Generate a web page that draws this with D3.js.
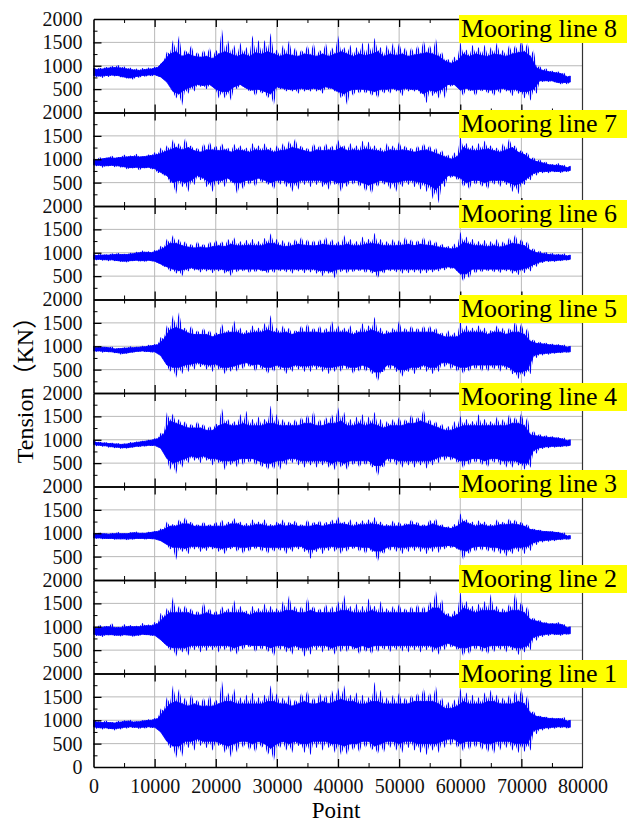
<!DOCTYPE html>
<html>
  <head>
    <meta charset="utf-8" />
    <title>Mooring line tension</title>
    <script src="https://d3js.org/d3.v7.min.js"></script>
    <style>
      body { margin: 0; background: #fff; }
      svg { display: block; }
    </style>
  </head>
  <body>
    <svg id="chart" width="628" height="824"></svg>

    <script>
      // Values (kN), one entry per 1000-point window.
      //   Peaks      : top of the spikes, at 0, 1000, ... 78000
      //   UpperCore  : top of the solid band between two spikes, at 500, 1500, ... 77500
      //   Troughs    : bottom of the spikes, at 500, 1500, ... 77500
      //   LowerCore  : bottom of the solid band, at 0, 1000, ... 78000
      const line8Peaks = [950,960,980,1000,1020,990,960,940,950,960, 980,1050,1300,1550,1650,1350,1450,1300,1350,1400,
        1350,1800,1550,1450,1500,1400,1650,1550,1550,1700, 1350,1450,1550,1400,1350,1450,1500,1350,1500,1400,
        1650,1400,1450,1400,1500,1500,1600,1400,1450,1500, 1500,1400,1400,1450,1550,1450,1600,1300,1150,1200,
        1500,1350,1450,1400,1450,1400,1500,1350,1450,1450, 1550,1500,1350,1000,950,900,880,850,780];
      const line8UpperCore = [920,930,950,960,950,930,910,900,920,930, 960,1100,1250,1300,1200,1250,1200,1180,1200,1150,
        1250,1300,1250,1200,1250,1200,1280,1250,1300,1250, 1200,1250,1220,1200,1250,1230,1200,1250,1200,1250,
        1300,1250,1200,1250,1220,1250,1300,1200,1250,1220, 1250,1200,1230,1250,1280,1250,1200,1100,1050,1100,
        1250,1200,1250,1220,1200,1250,1230,1200,1250,1280, 1300,1200,950,900,870,850,830,760];
      const line8Troughs = [760,740,760,770,750,720,700,740,760,770, 780,720,600,300,150,400,450,550,500,550,
        300,300,250,500,550,450,350,400,300,150, 500,450,450,400,450,450,450,400,500,450,
        300,150,350,400,400,350,300,400,400,450, 350,450,450,400,200,350,300,300,550,550,
        350,450,350,450,400,350,400,450,350,400, 300,250,400,650,650,640,600,600];
      const line8LowerCore = [790,780,790,800,790,760,740,770,790,800, 810,760,650,450,400,500,550,600,580,600,
        500,450,450,550,600,520,480,500,450,400, 550,520,500,500,520,500,520,500,550,520,
        450,400,480,500,500,480,450,500,500,520, 480,520,500,500,400,480,450,500,600,600,
        480,520,480,500,500,480,500,520,480,500, 450,450,500,680,680,680,640,640,650];

      const line7Peaks = [1000,1050,1030,1080,1050,1100,1080,1120,1060,1100, 1150,1250,1300,1430,1350,1460,1300,1250,1350,1380,
        1300,1350,1250,1330,1300,1250,1350,1300,1340,1250, 1300,1350,1400,1450,1300,1250,1350,1300,1350,1300,
        1420,1300,1350,1300,1400,1380,1300,1250,1350,1300, 1380,1300,1250,1300,1350,1300,1250,1200,1100,1150,
        1480,1350,1300,1350,1400,1300,1250,1350,1450,1300, 1200,1150,1050,1000,950,900,920,880,850];
      const line7UpperCore = [980,1010,1030,1020,1040,1050,1060,1050,1060,1080, 1100,1150,1200,1250,1200,1250,1180,1150,1200,1200,
        1180,1200,1150,1200,1180,1150,1200,1180,1200,1150, 1180,1200,1250,1220,1180,1150,1200,1180,1200,1180,
        1250,1180,1200,1180,1220,1200,1180,1150,1200,1180, 1200,1180,1150,1180,1200,1150,1100,1050,1000,1050,
        1250,1200,1180,1200,1220,1180,1150,1200,1250,1150, 1100,1000,950,920,880,870,860,820];
      const line7Troughs = [850,820,850,830,820,780,800,760,800,780, 700,650,500,250,400,300,450,550,400,300,
        450,400,500,250,350,450,400,500,450,350, 450,400,300,350,450,400,450,400,350,450,
        300,400,450,400,300,250,400,450,350,300, 400,450,400,350,300,150,60,400,600,550,
        400,350,450,400,350,450,400,450,300,250, 450,550,650,700,700,720,700,720];
      const line7LowerCore = [880,870,860,870,860,840,820,830,820,830, 800,720,650,500,550,500,550,650,600,500,
        550,550,600,500,500,550,550,600,550,500, 550,550,500,500,550,550,550,550,500,550,
        500,500,550,550,500,450,500,550,520,500, 520,550,550,520,500,450,350,500,650,650,
        600,500,550,550,500,550,550,550,500,450, 500,600,700,740,740,750,740,750,760];

      const line6Peaks = [960,980,970,990,1000,980,1000,1020,1050,1030, 1060,1150,1300,1380,1300,1250,1200,1250,1200,1250,
        1280,1250,1300,1330,1250,1280,1300,1250,1320,1415, 1300,1280,1250,1300,1350,1300,1280,1300,1350,1300,
        1250,1380,1300,1250,1350,1300,1430,1300,1250,1300, 1280,1350,1300,1280,1350,1300,1250,1200,1150,1200,
        1450,1350,1300,1250,1280,1250,1300,1250,1330,1400, 1300,1250,1100,1050,1020,1000,980,990,950];
      const line6UpperCore = [940,950,950,960,960,960,980,1000,1010,1000, 1040,1100,1200,1200,1150,1120,1100,1120,1100,1130,
        1150,1130,1180,1150,1150,1160,1150,1150,1200,1200, 1150,1130,1150,1180,1160,1150,1150,1180,1160,1150,
        1150,1180,1150,1150,1180,1200,1180,1150,1150,1150, 1160,1180,1150,1180,1160,1150,1120,1100,1080,1100,
        1220,1180,1150,1150,1130,1150,1120,1150,1200,1180, 1150,1050,1000,980,960,950,950,930];
      const line6Troughs = [840,830,820,820,800,790,820,810,800,820, 780,700,600,550,500,600,620,580,600,560,
        600,550,500,580,600,560,580,600,550,560, 600,580,550,600,560,580,550,500,550,450,
        580,550,580,600,560,550,450,550,600,580, 550,560,580,550,560,580,600,620,650,600,
        380,450,550,580,600,580,560,600,550,520, 560,600,700,780,800,800,820,830];
      const line6LowerCore = [860,860,850,850,830,820,830,840,830,840, 820,760,700,650,620,650,680,650,660,650,
        650,650,620,650,650,650,650,650,620,650, 650,650,650,650,650,650,650,620,620,600,
        650,650,650,650,650,650,600,620,650,650, 650,650,650,650,650,650,650,680,700,680,
        550,550,650,650,650,650,650,650,650,620, 650,680,750,800,830,830,840,850,860];

      const line5Peaks = [1000,1010,990,1000,960,980,1000,990,1010,1030, 1050,1200,1450,1670,1740,1400,1450,1350,1400,1350,
        1300,1490,1350,1550,1400,1350,1450,1400,1500,1670, 1400,1450,1400,1350,1450,1500,1400,1450,1400,1550,
        1450,1400,1450,1350,1500,1450,1630,1400,1350,1400, 1550,1400,1450,1400,1450,1450,1400,1300,1350,1300,
        1550,1450,1400,1450,1400,1350,1450,1400,1400,1550, 1500,1400,1150,1100,1080,1060,1050,1040,1000];
      const line5UpperCore = [970,980,970,940,950,960,970,980,990,1010, 1030,1150,1350,1400,1350,1280,1250,1250,1250,1200,
        1250,1280,1300,1300,1250,1280,1300,1300,1350,1300, 1280,1300,1250,1300,1300,1300,1300,1280,1300,1300,
        1300,1300,1250,1300,1300,1350,1300,1250,1280,1300, 1300,1300,1300,1300,1300,1300,1250,1200,1200,1200,
        1300,1300,1300,1300,1250,1300,1300,1250,1300,1300, 1250,1100,1060,1050,1030,1020,1010,980];
      const line5Troughs = [880,860,870,850,820,840,860,880,870,860, 850,700,450,320,400,450,500,550,500,450,
        500,400,450,450,500,550,450,500,400,450, 500,400,450,500,450,450,500,450,400,450,
        450,500,400,450,450,400,240,450,500,450, 350,450,400,500,450,400,450,550,500,450,
        400,450,500,450,450,500,450,500,400,300, 350,400,750,800,820,840,850,860];
      const line5LowerCore = [900,900,890,880,860,850,870,890,900,890, 880,800,600,550,550,600,620,650,620,600,
        620,550,550,580,620,650,600,620,550,550, 600,550,550,600,580,580,600,580,550,550,
        580,600,550,550,600,550,450,450,600,600, 500,500,550,550,600,550,550,650,650,600,
        550,550,600,600,600,600,600,600,550,450, 450,500,800,840,850,860,870,880,880];

      const line4Peaks = [980,960,950,940,930,920,950,960,980,1000, 1030,1150,1590,1560,1450,1400,1350,1400,1350,1300,
        1350,1685,1450,1400,1550,1620,1450,1500,1450,1735, 1550,1450,1400,1450,1500,1550,1630,1450,1500,1550,
        1700,1600,1450,1500,1550,1500,1600,1450,1400,1450, 1500,1450,1550,1500,1665,1450,1400,1350,1300,1400,
        1520,1450,1400,1550,1450,1400,1500,1450,1550,1500, 1590,1500,1200,1130,1100,1080,1060,1050,1000];
      const line4UpperCore = [940,930,920,910,900,910,930,950,970,990, 1020,1120,1400,1350,1300,1250,1250,1250,1200,1200,
        1300,1350,1300,1300,1350,1300,1300,1300,1350,1350, 1300,1300,1300,1300,1350,1350,1300,1300,1350,1350,
        1400,1300,1300,1350,1300,1350,1300,1250,1300,1300, 1300,1350,1350,1400,1350,1300,1250,1200,1200,1250,
        1300,1300,1300,1300,1300,1300,1300,1300,1350,1350, 1300,1100,1080,1060,1050,1040,1020,980];
      const line4Troughs = [860,850,830,820,800,810,830,840,850,860, 850,750,350,260,400,500,550,500,550,450,
        500,350,450,400,450,500,450,400,350,360, 350,450,500,450,400,450,400,450,400,350,
        400,350,450,400,450,400,215,400,500,450, 400,450,400,450,380,450,500,550,550,500,
        380,450,500,450,400,500,450,400,400,450, 360,400,700,800,820,830,840,850];
      const line4LowerCore = [900,880,870,850,840,830,840,860,870,880, 880,820,600,500,550,600,650,620,650,600,
        600,550,550,550,600,600,600,550,500,500, 550,550,600,600,550,550,550,550,550,500,
        550,500,550,550,550,550,450,450,600,600, 550,550,550,550,550,550,600,650,650,620,
        550,550,600,600,550,600,600,550,550,550, 500,500,780,830,850,860,860,870,880];

      const line3Peaks = [1000,1020,1000,1010,1030,1000,1020,1040,1010,1030, 1050,1100,1250,1200,1300,1350,1250,1200,1250,1200,
        1250,1300,1250,1325,1250,1220,1300,1250,1300,1200, 1250,1300,1250,1280,1200,1300,1250,1280,1250,1300,
        1360,1250,1300,1250,1280,1300,1350,1250,1200,1280, 1250,1220,1300,1250,1200,1300,1320,1200,1150,1200,
        1430,1300,1250,1280,1250,1200,1300,1250,1320,1300, 1250,1200,1100,1080,1050,1050,1030,1020,950];
      const line3UpperCore = [980,990,980,990,990,990,1010,1000,1000,1020, 1040,1080,1150,1150,1200,1200,1150,1150,1150,1150,
        1150,1150,1200,1200,1150,1150,1180,1180,1150,1150, 1180,1150,1180,1150,1150,1150,1180,1150,1180,1200,
        1200,1180,1150,1180,1180,1200,1180,1150,1150,1150, 1150,1180,1180,1150,1150,1200,1150,1120,1100,1150,
        1250,1200,1150,1180,1150,1150,1180,1180,1200,1180, 1150,1080,1060,1040,1030,1020,1000,940];
      const line3Troughs = [880,870,880,860,870,850,860,880,860,870, 860,800,650,420,600,550,650,600,620,650,
        600,550,650,600,550,600,650,600,550,600, 620,550,600,650,600,450,600,550,620,600,
        550,600,650,600,550,600,385,550,620,600, 550,600,620,600,550,600,580,650,680,650,
        420,550,600,620,600,580,550,500,550,600, 550,620,750,800,820,830,850,860];
      const line3LowerCore = [900,900,890,890,880,880,880,890,890,890, 880,840,760,700,700,680,720,720,700,720,
        700,680,700,720,700,700,720,720,700,700, 700,700,700,720,720,650,650,700,700,720,
        700,700,720,720,700,700,620,620,700,720, 700,700,720,720,700,700,720,720,740,720,
        650,620,700,720,720,700,700,650,650,700, 700,720,800,840,850,860,870,880,880];

      const line2Peaks = [1000,1050,1020,1080,1000,1060,1040,1020,1080,1050, 1100,1300,1400,1640,1450,1465,1400,1350,1535,1400,
        1350,1450,1400,1570,1450,1350,1450,1400,1500,1450, 1400,1550,1680,1450,1450,1640,1450,1400,1500,1450,
        1550,1680,1450,1500,1450,1610,1450,1550,1400,1450, 1500,1400,1450,1500,1450,1550,1785,1600,1300,1350,
        1750,1550,1450,1500,1550,1700,1450,1400,1500,1750, 1550,1450,1200,1150,1100,1080,1100,1060,1000];
      const line2UpperCore = [960,990,1000,980,980,1000,1000,1000,1020,1020, 1060,1200,1300,1300,1300,1300,1250,1250,1300,1250,
        1250,1300,1300,1300,1300,1250,1300,1300,1300,1300, 1300,1350,1350,1300,1300,1350,1300,1300,1300,1300,
        1350,1350,1300,1300,1300,1350,1300,1300,1300,1300, 1300,1300,1300,1300,1300,1400,1400,1250,1200,1250,
        1400,1350,1300,1350,1350,1350,1300,1300,1350,1350, 1300,1150,1120,1080,1060,1060,1050,980];
      const line2Troughs = [800,780,820,800,790,820,780,800,820,800, 780,650,500,360,450,380,500,450,480,500,
        450,500,450,395,500,550,450,500,450,360, 500,450,400,500,360,400,500,450,480,400,
        450,450,500,400,450,400,450,500,450,500, 470,450,500,450,500,450,400,500,550,500,
        360,400,500,450,400,450,500,450,500,395, 450,500,700,780,800,820,800,830];
      const line2LowerCore = [840,820,830,830,820,830,820,820,840,830, 820,720,600,550,550,550,600,600,600,600,
        600,600,600,550,600,620,600,600,600,550, 600,600,550,600,550,550,600,600,600,550,
        600,600,600,550,600,550,600,600,600,600, 600,600,600,600,600,600,550,600,650,600,
        550,550,600,600,550,600,600,600,600,550, 550,600,780,820,840,850,840,850,850];

      const line1Peaks = [1000,980,1000,960,990,1000,1010,980,1000,1020, 1050,1250,1500,1750,1680,1500,1570,1450,1500,1550,
        1450,1860,1600,1680,1500,1550,1600,1500,1550,1750, 1580,1500,1550,1450,1600,1650,1500,1600,1550,1650,
        1700,1750,1550,1600,1550,1500,1825,1650,1500,1550, 1600,1500,1550,1600,1700,1600,1750,1500,1400,1450,
        1680,1600,1550,1500,1600,1650,1550,1500,1550,1650, 1680,1550,1200,1100,1080,1060,1050,1070,1000];
      const line1UpperCore = [960,950,950,940,960,980,960,970,990,1000, 1030,1200,1350,1400,1350,1300,1350,1300,1300,1300,
        1350,1400,1400,1350,1350,1350,1350,1350,1400,1400, 1350,1350,1300,1350,1400,1350,1350,1400,1350,1400,
        1450,1400,1400,1350,1350,1400,1400,1350,1350,1350, 1350,1350,1400,1400,1400,1400,1350,1250,1250,1300,
        1400,1350,1350,1350,1400,1400,1350,1350,1350,1400, 1350,1150,1080,1060,1040,1030,1030,980];
      const line1Troughs = [820,800,810,780,800,820,830,810,820,830, 820,650,400,185,220,400,350,450,400,350,
        450,300,200,300,400,350,300,400,250,115, 400,350,300,450,300,250,400,350,400,300,
        250,250,350,300,400,350,270,300,400,350, 300,400,350,300,250,350,300,400,450,400,
        320,350,400,350,300,270,350,400,350,300, 320,350,700,780,800,820,830,820];
      const line1LowerCore = [860,840,840,820,830,850,860,850,850,860, 850,750,550,450,450,550,550,600,550,550,
        550,500,450,500,550,550,500,550,500,400, 500,550,500,550,500,500,550,550,550,500,
        500,450,500,500,550,550,450,500,550,550, 500,550,550,500,500,500,500,550,600,600,
        500,550,550,550,500,500,550,550,550,500, 500,500,780,820,840,850,860,860,850];

      const lineNames = ["Mooring line 8", "Mooring line 7", "Mooring line 6", "Mooring line 5",
        "Mooring line 4", "Mooring line 3", "Mooring line 2", "Mooring line 1"];
      const yTicks = [500, 1000, 1500, 2000];
      const yMinorTicks = [250, 750, 1250, 1750];
      const xTicks = [0, 10000, 20000, 30000, 40000, 50000, 60000, 70000, 80000];
      const xMinorTicks = [5000, 15000, 25000, 35000, 45000, 55000, 65000, 75000];

      const lines = [
        { name: lineNames[0], peaks: line8Peaks, upper: line8UpperCore, troughs: line8Troughs, lower: line8LowerCore },
        { name: lineNames[1], peaks: line7Peaks, upper: line7UpperCore, troughs: line7Troughs, lower: line7LowerCore },
        { name: lineNames[2], peaks: line6Peaks, upper: line6UpperCore, troughs: line6Troughs, lower: line6LowerCore },
        { name: lineNames[3], peaks: line5Peaks, upper: line5UpperCore, troughs: line5Troughs, lower: line5LowerCore },
        { name: lineNames[4], peaks: line4Peaks, upper: line4UpperCore, troughs: line4Troughs, lower: line4LowerCore },
        { name: lineNames[5], peaks: line3Peaks, upper: line3UpperCore, troughs: line3Troughs, lower: line3LowerCore },
        { name: lineNames[6], peaks: line2Peaks, upper: line2UpperCore, troughs: line2Troughs, lower: line2LowerCore },
        { name: lineNames[7], peaks: line1Peaks, upper: line1UpperCore, troughs: line1Troughs, lower: line1LowerCore }
      ];

      const svg = d3.select("#chart");
      const plotLeft = 93.5, plotRight = 582.5, plotTop = 19, plotBottom = 767;
      const serif = "'Liberation Serif', 'Times New Roman', serif";
      const blue = "#0000ff";
      // label boxes are not placed identically on every panel in the original
      const labelTop = [15, 110, 200, 295, 383, 470, 565, 660];

      const x = d3.scaleLinear().domain([0, 80000]).range([plotLeft, plotRight]);
      const band = d3.scaleBand().domain(lineNames).range([plotTop, plotBottom]).padding(0);

      // thin vertical hatching so the spikes read as many fine strokes
      svg.append("defs")
        .append("pattern")
        .attr("id", "spikes")
        .attr("patternUnits", "userSpaceOnUse")
        .attr("width", 2).attr("height", 8)
        .append("rect")
        .attr("width", 1.2).attr("height", 8)
        .attr("fill", blue);

      // every 500 points: [point, top, bottom] ; even rows = spike up, odd rows = spike down
      function toRows(line) {
        const rows = [];
        line.peaks.forEach((p, i) => {
          rows.push([i * 1000, p, line.lower[i]]);
          if (i < line.troughs.length) rows.push([i * 1000 + 500, line.upper[i], line.troughs[i]]);
        });
        return rows;
      }
      // outline of the solid band: upper core on top, lower core below
      function corePoints(line) {
        const last = line.peaks.length - 1;
        const topEdge = [[0, line.peaks[0]]]
          .concat(line.upper.map((v, i) => [i * 1000 + 500, v]))
          .concat([[last * 1000, line.peaks[last]]]);
        const bottomEdge = line.lower.map((v, i) => [i * 1000, v]).reverse();
        return topEdge.concat(bottomEdge);
      }

      lines.forEach((line, idx) => {
        const y0 = band(line.name);
        const y = d3.scaleLinear().domain([0, 2000]).range([y0 + band.bandwidth(), y0]);
        const g = svg.append("g");

        // grid
        g.selectAll("line.hgrid")
          .data([500, 1000, 1500])
          .join("line")
          .attr("class", "hgrid")
          .attr("x1", plotLeft).attr("x2", plotRight)
          .attr("y1", (d) => y(d)).attr("y2", (d) => y(d))
          .attr("stroke", "#b9b9b9").attr("stroke-width", 1);
        g.selectAll("line.vgrid")
          .data(xTicks.slice(1, -1))
          .join("line")
          .attr("class", "vgrid")
          .attr("x1", (d) => x(d)).attr("x2", (d) => x(d))
          .attr("y1", y(0)).attr("y2", y(2000))
          .attr("stroke", "#b9b9b9").attr("stroke-width", 1);

        // signal: hatched min/max band with a solid core
        const area = d3.area()
          .x((d) => x(d[0]))
          .y1((d) => y(d[1]))
          .y0((d) => y(d[2]));
        g.append("path")
          .attr("d", area(toRows(line)))
          .attr("fill", "url(#spikes)");
        const outline = d3.line().x((d) => x(d[0])).y((d) => y(d[1]));
        g.append("path")
          .attr("d", outline(corePoints(line)) + "Z")
          .attr("fill", blue)
          .attr("stroke", blue)
          .attr("stroke-width", 0.8);

        // right frame
        g.append("line")
          .attr("x1", plotRight).attr("x2", plotRight)
          .attr("y1", y(0)).attr("y2", y(2000))
          .attr("stroke", "#333").attr("stroke-width", 1.2);

        // left axis, ticks pointing inwards
        const isLast = idx === lines.length - 1;
        const yAxis = g.append("g")
          .attr("transform", "translate(" + plotLeft + ",0)")
          .call(d3.axisLeft(y)
            .tickValues(isLast ? [0].concat(yTicks) : yTicks)
            .tickFormat(d3.format("d"))
            .tickSizeInner(-8).tickSizeOuter(0).tickPadding(11));
        g.append("g")
          .attr("transform", "translate(" + plotLeft + ",0)")
          .call(d3.axisLeft(y).tickValues(yMinorTicks).tickSize(-4).tickFormat(""))
          .call((a) => a.select(".domain").remove());

        // top and bottom frame with ticks
        const topAxis = g.append("g")
          .attr("transform", "translate(0," + y(2000) + ")")
          .call(d3.axisTop(x).tickValues(xTicks.slice(1, -1)).tickSizeInner(-8).tickSizeOuter(0).tickFormat(""));
        g.append("g")
          .attr("transform", "translate(0," + y(2000) + ")")
          .call(d3.axisTop(x).tickValues(xMinorTicks).tickSize(-4).tickFormat(""))
          .call((a) => a.select(".domain").remove());
        const botAxis = g.append("g")
          .attr("transform", "translate(0," + y(0) + ")")
          .call(d3.axisBottom(x).tickValues(isLast ? xTicks : xTicks.slice(1, -1))
            .tickSizeInner(-8).tickSizeOuter(0).tickPadding(12)
            .tickFormat(isLast ? d3.format("d") : ""));
        g.append("g")
          .attr("transform", "translate(0," + y(0) + ")")
          .call(d3.axisBottom(x).tickValues(xMinorTicks).tickSize(-4).tickFormat(""))
          .call((a) => a.select(".domain").remove());

        [yAxis, topAxis, botAxis].forEach((a) => {
          a.attr("font-family", serif).attr("font-size", 20);
          a.select(".domain").attr("stroke", "#000").attr("stroke-width", 1.6);
          a.selectAll(".tick line").attr("stroke", "#000").attr("stroke-width", 1.3);
          a.selectAll(".tick text").attr("fill", "#111");
        });
        // no tick marks on the frame corners
        botAxis.selectAll(".tick line").filter((d) => d === 0 || d === 80000).remove();
        yAxis.selectAll(".tick line").filter((d) => d === 0 || d === 2000).remove();
      });

      // panel labels
      lines.forEach((line, idx) => {
        const t = labelTop[idx];
        svg.append("rect")
          .attr("x", 459).attr("y", t)
          .attr("width", 168).attr("height", 28)
          .attr("fill", "#ffff00");
        svg.append("text")
          .attr("x", 461).attr("y", t + 22)
          .attr("font-family", serif).attr("font-size", 26)
          .attr("fill", "#000")
          .text(line.name);
      });

      // axis titles
      svg.append("text")
        .attr("x", 336).attr("y", 818)
        .attr("text-anchor", "middle")
        .attr("font-family", serif).attr("font-size", 23)
        .text("Point");
      const yTitle = svg.append("text")
        .attr("transform", "translate(33,384) rotate(-90)")
        .attr("text-anchor", "middle")
        .attr("font-family", serif).attr("font-size", 24);
      yTitle.append("tspan").text("Tension");
      yTitle.append("tspan").attr("font-family", "'Noto Sans CJK SC'").text("（");
      yTitle.append("tspan").text("KN");
      yTitle.append("tspan").attr("font-family", "'Noto Sans CJK SC'").text("）");
    </script>
  </body>
</html>
